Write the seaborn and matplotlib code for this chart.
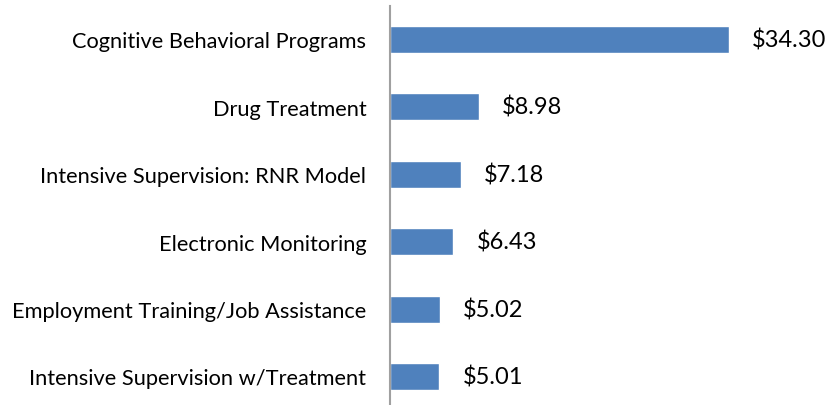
import matplotlib
matplotlib.use("Agg")
import matplotlib.pyplot as plt
import seaborn as sns
import pandas as pd

categories = [
    "Cognitive Behavioral Programs",
    "Drug Treatment",
    "Intensive Supervision: RNR Model",
    "Electronic Monitoring",
    "Employment Training/Job Assistance",
    "Intensive Supervision w/Treatment",
]
values = [34.30, 8.98, 7.18, 6.43, 5.02, 5.01]
value_labels = ["$34.30", "$8.98", "$7.18", "$6.43", "$5.02", "$5.01"]

df = pd.DataFrame({"category": categories, "value": values})

sns.set_style("white")
plt.rcParams["font.family"] = ["Lato", "DejaVu Sans"]

W, H = 827, 406
fig = plt.figure(figsize=(W / 100, H / 100), dpi=100)
ax = fig.add_axes([390 / W, (406 - 411.2) / H, 395 / W, 404.4 / H])

sns.barplot(data=df, y="category", x="value", orient="h", color="#4F81BD",
            width=0.4, saturation=1, ax=ax)

ax.set_xlim(0, 40)
ax.set_ylim(5.5, -0.5)
ax.set_xlabel("")
ax.set_ylabel("")
ax.set_xticks([])
ax.tick_params(axis="y", length=0, pad=17, labelsize=15.7, labelcolor="black")
for s in ["top", "right", "bottom"]:
    ax.spines[s].set_visible(False)
ax.spines["left"].set_color("#A0A0A0")
ax.spines["left"].set_linewidth(1.5)

for i, (v, t) in enumerate(zip(values, value_labels)):
    ax.annotate(t, xy=(v, i), xytext=(23, 0), textcoords="offset pixels",
                va="center", ha="left", fontsize=17, color="black")

fig.savefig("out.png", dpi=100)
